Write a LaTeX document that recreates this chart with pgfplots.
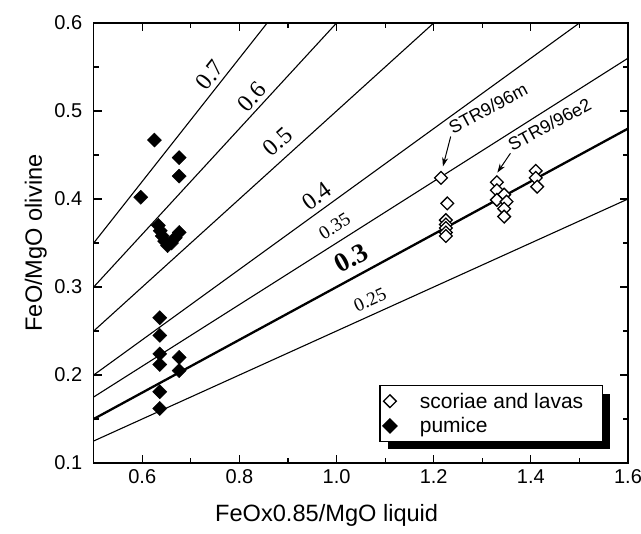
\documentclass[border=0pt]{standalone}
\usepackage{pgfplots}
\pgfplotsset{compat=1.18}
\usepackage{fontspec}
\setmainfont{Liberation Sans}
\newfontfamily\tms{Liberation Serif}
\usetikzlibrary{shadows,arrows.meta}
\makeatletter
\tikzset{noshadow/.code={\let\tikz@preactions\pgfutil@empty}}
\makeatother

\begin{document}
\begin{tikzpicture}
\useasboundingbox (-93.7pt,-71pt) rectangle (547.3pt,463pt);
\begin{axis}[
  scale only axis,
  width=534.3pt,
  height=440pt,
  xmin=0.5, xmax=1.6,
  ymin=0.1, ymax=0.6,
  xtick={0.6,0.8,1.0,1.2,1.4,1.6},
  minor xtick={0.5,0.7,0.9,1.1,1.3,1.5},
  ytick={0.1,0.2,0.3,0.4,0.5,0.6},
  minor ytick={0.15,0.25,0.35,0.45,0.55},
  /pgf/number format/fixed,
  /pgf/number format/fixed zerofill,
  /pgf/number format/precision=1,
  /pgf/number format/assume math mode=true,
  tick label style={font=\fontsize{20}{24}\selectfont},
  every x tick label/.append style={yshift=-3pt},
  every y tick label/.append style={xshift=-8pt},
  tick align=inside,
  major tick length=8pt,
  minor tick length=5pt,
  tick style={black, line width=1.1pt},
  axis line style={black, line width=1.3pt},
  xlabel={FeOx0.85/MgO liquid},
  ylabel={FeO/MgO olivine},
  every axis x label/.style={at={(axis description cs:0.436,0)}, anchor=center,
    yshift=-52pt, font=\fontsize{23.6}{28}\selectfont},
  every axis y label/.style={at={(axis description cs:0,0.5)}, rotate=90, anchor=center,
    yshift=58pt, font=\fontsize{23.6}{28}\selectfont},
  legend style={at={(rel axis cs:0.953,0.048)}, anchor=south east,
    draw=black, line width=1.2pt, fill=white,
    font=\fontsize{21}{25}\selectfont,
    inner xsep=3pt, inner ysep=5pt, row sep=4pt,
    drop shadow={shadow xshift=8pt, shadow yshift=-8pt, fill=black, opacity=1},
    nodes={inner sep=2pt, noshadow}},
  legend cell align=left,
  legend image code/.code={\path[noshadow, draw=none, fill=none] (0cm,-2pt) rectangle (1.2cm,2pt);
    \draw[noshadow, #1] plot coordinates {(0.22cm,0cm)};},
  clip=true,
]
% constant Kd lines
\addplot[black, line width=1.1pt, forget plot] coordinates {(0.5,0.125) (1.6,0.40)};
\addplot[black, line width=2.3pt, forget plot] coordinates {(0.5,0.15) (1.6,0.48)};
\addplot[black, line width=1.1pt, forget plot] coordinates {(0.5,0.175) (1.6,0.56)};
\addplot[black, line width=1.1pt, forget plot] coordinates {(0.5,0.20) (1.6,0.64)};
\addplot[black, line width=1.1pt, forget plot] coordinates {(0.5,0.25) (1.6,0.80)};
\addplot[black, line width=1.1pt, forget plot] coordinates {(0.5,0.30) (1.6,0.96)};
\addplot[black, line width=1.1pt, forget plot] coordinates {(0.5,0.35) (1.6,1.12)};

\addplot[only marks, mark=square*, mark size=4.5pt,
  mark options={rotate=45, fill=white, draw=black, line width=1.3pt}] coordinates {
  (1.215,0.424) (1.228,0.395) (1.225,0.376) (1.225,0.371) (1.225,0.367)
  (1.225,0.362) (1.225,0.358)
  (1.330,0.419) (1.330,0.410) (1.345,0.405) (1.330,0.399) (1.350,0.397)
  (1.345,0.389) (1.345,0.380)
  (1.410,0.432) (1.410,0.424) (1.413,0.414)
};
\addlegendentry{scoriae and lavas\rule{14pt}{0pt}}

\addplot[only marks, mark=square*, mark size=5pt,
  mark options={rotate=45, fill=black, draw=black}] coordinates {
  (0.597,0.402) (0.625,0.467) (0.676,0.447) (0.676,0.426)
  (0.633,0.370) (0.637,0.364) (0.641,0.358) (0.646,0.352) (0.652,0.347)
  (0.660,0.350) (0.668,0.356) (0.676,0.362)
  (0.636,0.265) (0.636,0.245) (0.636,0.224) (0.636,0.212)
  (0.676,0.220) (0.676,0.205) (0.636,0.181) (0.636,0.162)
};
\addlegendentry{pumice}

% line labels
\node[font=\tms\fontsize{24}{27}\selectfont, rotate=51.7] at (axis cs:0.739,0.541) {0.7};
\node[font=\tms\fontsize{24}{27}\selectfont, rotate=47.4] at (axis cs:0.825,0.516) {0.6};
\node[font=\tms\fontsize{24}{27}\selectfont, rotate=42] at (axis cs:0.879,0.465) {0.5};
\node[font=\tms\fontsize{24}{27}\selectfont, rotate=36] at (axis cs:0.959,0.403) {0.4};
\node[font=\tms\fontsize{19}{22}\selectfont, rotate=32.4] at (axis cs:0.996,0.369) {0.35};
\node[font=\tms\bfseries\fontsize{27}{30}\selectfont, rotate=28.5] at (axis cs:1.031,0.333) {0.3};
\node[font=\tms\fontsize{19}{22}\selectfont, rotate=24.4] at (axis cs:1.069,0.285) {0.25};

% sample labels
\draw[-{Stealth[length=9pt,width=6pt]}, line width=1pt] (axis cs:1.235,0.471) -- (axis cs:1.219,0.437);
\node[anchor=base west, rotate=28.3, font=\fontsize{18}{21}\selectfont, inner sep=1pt] at (axis cs:1.238,0.473) {STR9/96m};
\draw[-{Stealth[length=9pt,width=6pt]}, line width=1pt] (axis cs:1.358,0.452) -- (axis cs:1.331,0.430);
\node[anchor=base west, rotate=28.3, font=\fontsize{18}{21}\selectfont, inner sep=1pt] at (axis cs:1.360,0.453) {STR9/96e2};
\end{axis}
\end{tikzpicture}
\end{document}
